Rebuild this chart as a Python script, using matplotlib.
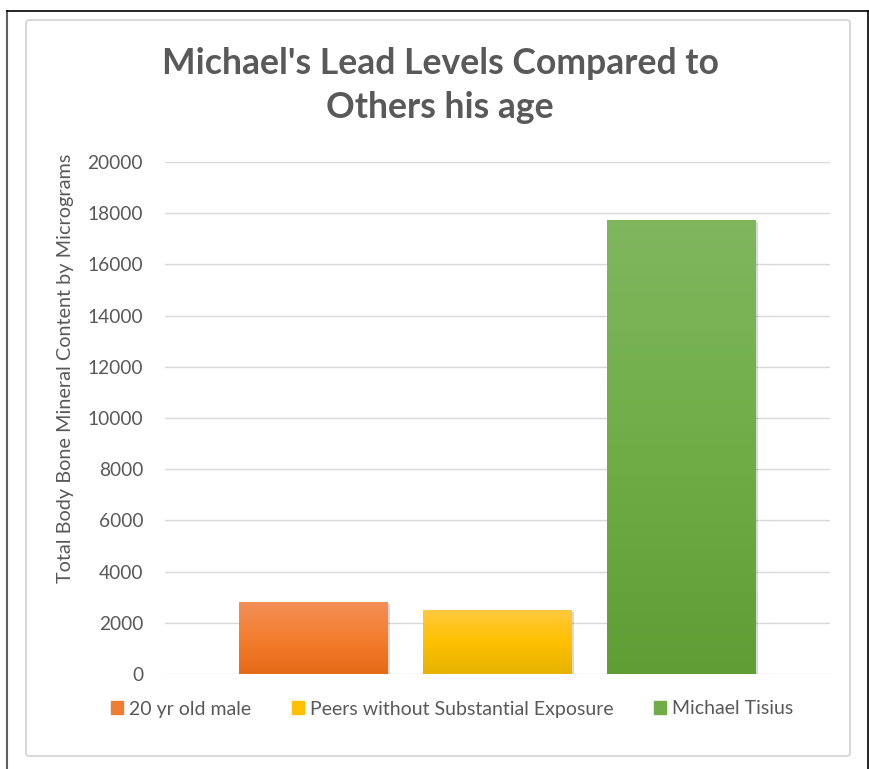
import numpy as np
import matplotlib.pyplot as plt
from matplotlib.patches import FancyBboxPatch
from matplotlib.lines import Line2D
from matplotlib.colors import LinearSegmentedColormap
import matplotlib.patheffects as pe

plt.rcParams['font.family'] = ['Lato', 'DejaVu Sans']

# Data
series = ['20 yr old male', 'Peers without Substantial Exposure', 'Michael Tisius']
values = [2800, 2500, 17750]
yticks = [0, 2000, 4000, 6000, 8000, 10000, 12000, 14000, 16000, 18000, 20000]

# gradient colours (top, middle, bottom) per bar
grads = [('#F28F58', '#F47E30', '#E56A16'),
         ('#FFC93E', '#FFC000', '#E6B300'),
         ('#80B75F', '#70AD47', '#5E9E35')]
solid = ['#ED7D31', '#FFC000', '#70AD47']

fig = plt.figure(figsize=(8.7, 7.69), dpi=100)
W, H = 870, 769

ax = fig.add_axes([165 / W, 1 - 674 / H, (830 - 165) / W, (674 - 162) / H])

x = np.arange(len(values))
bars = ax.bar(x, values, width=0.81, color=solid, zorder=2,
              path_effects=[pe.SimplePatchShadow(offset=(1.5, -1.5), alpha=0.15, shadow_rgbFace='k'),
                            pe.Normal()])

# gradient fill on top of each bar
for b, g in zip(bars, grads):
    cmap = LinearSegmentedColormap.from_list('g', [g[2], g[1], g[0]])
    x0, y0 = b.get_x(), b.get_y()
    grad = np.linspace(0, 1, 256).reshape(-1, 1)
    im = ax.imshow(grad, cmap=cmap, origin='lower', aspect='auto',
                   extent=[x0, x0 + b.get_width(), y0, y0 + b.get_height()], zorder=3)
    im.set_clip_path(b)

ax.set_xlim(-0.81, 2.81)
ax.set_ylim(0, 20000)
ax.set_yticks(yticks)
ax.set_yticklabels([str(v) for v in yticks], fontsize=13.8, color='#595959')
ax.set_xticks([])
ax.tick_params(axis='y', length=0, pad=15.8)
ax.grid(axis='y', color='#d9d9d9', linewidth=1, zorder=0)
ax.set_axisbelow(True)
for s in ax.spines.values():
    s.set_visible(False)

ax.set_ylabel('Total Body Bone Mineral Content by Micrograms', fontsize=14.3,
              color='#595959')
ax.yaxis.set_label_coords((74 - 165) / (830 - 165), (674 - 368) / (674 - 162))

fig.text(440 / W, 1 - 63 / H, "Michael's Lead Levels Compared to", ha='center', va='center',
         fontsize=25.6, fontweight='bold', color='#595959')
fig.text(440 / W, 1 - 108 / H, 'Others his age', ha='center', va='center',
         fontsize=25.6, fontweight='bold', color='#595959')

handles = [plt.Rectangle((0, 0), 1, 1, color=c) for c in solid]
fig.legend(handles, series, loc='center', bbox_to_anchor=(452 / W, 1 - 709 / H), ncol=3,
           frameon=False, fontsize=14, labelcolor='#595959', handlelength=0.62,
           handleheight=0.62, handletextpad=0.3, columnspacing=2.1)

# chart border (grey, rounded) and outer frame
fig.add_artist(FancyBboxPatch((26 / W, 1 - 756 / H), (850 - 26) / W, (756 - 20) / H,
                              boxstyle='round,pad=0,rounding_size=0.004',
                              transform=fig.transFigure, fill=False,
                              edgecolor='#d9d9d9', linewidth=1.5))
fig.add_artist(Line2D([7 / W, 7 / W], [0, 1 - 11 / H], transform=fig.transFigure,
                      color='#606060', linewidth=1.5))
fig.add_artist(Line2D([7 / W, 868 / W], [1 - 11 / H, 1 - 11 / H], transform=fig.transFigure,
                      color='black', linewidth=1.2))
fig.add_artist(Line2D([868 / W, 868 / W], [0, 1 - 11 / H], transform=fig.transFigure,
                      color='black', linewidth=1.2))

fig.savefig('out.png', dpi=100)
